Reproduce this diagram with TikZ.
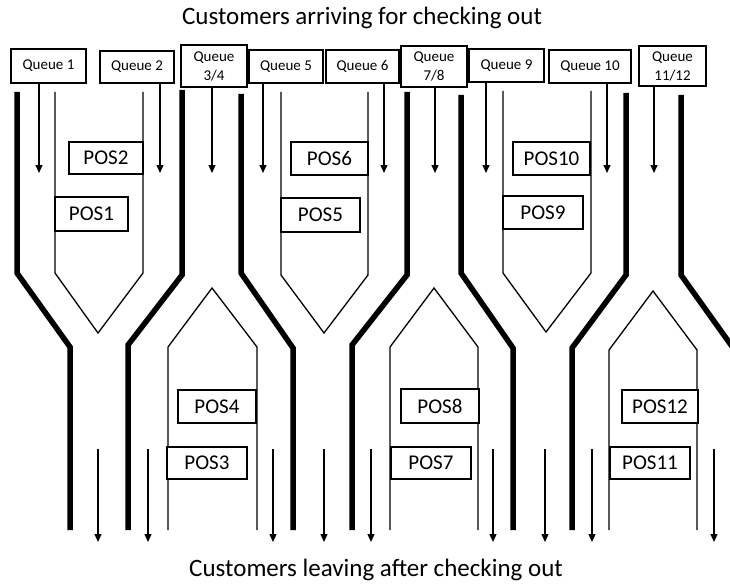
\documentclass[tikz,border=0pt]{standalone}
\usepackage{fontspec}
\setmainfont{Carlito}
\usetikzlibrary{arrows.meta}
\begin{document}
\begin{tikzpicture}[x=1pt,y=-1pt,
  wall/.style={line width=5.5pt, line join=miter},
  island/.style={line width=1.3pt, line join=miter},
  qbox/.style={draw, fill=white, line width=1.8pt, inner sep=0pt, font=\fontsize{15}{19}\selectfont, align=center},
  posbox/.style={draw, fill=white, line width=1.8pt, inner sep=0pt, font=\fontsize{21}{25}\selectfont},
  flow/.style={line width=1.2pt, -{Triangle[width=7pt,length=8pt]}},
  title/.style={font=\fontsize{25}{30}\selectfont, anchor=base, inner sep=0pt}]
\useasboundingbox (0,0) rectangle (730,583);

% lane walls
\draw[wall] (17,92) -- (17,273) -- (70,347) -- (70,530);
\draw[island] (55,92) -- (55,273) -- (98,333) -- (143,273) -- (143,92);
\draw[wall] (182,90) -- (182,275) -- (128,345) -- (128,530);
\draw[island] (168,530) -- (168,347) -- (212,288) -- (257,347) -- (257,530);
\draw[wall] (241,94) -- (241,273) -- (293,348) -- (293,530);
\draw[island] (281,92) -- (281,275) -- (324,333) -- (368,275) -- (368,92);
\draw[wall] (407,92) -- (407,275) -- (352,345) -- (352,530);
\draw[island] (390,530) -- (390,347) -- (434,288) -- (478,347) -- (478,530);
\draw[wall] (461,95) -- (461,273) -- (513,348) -- (513,530);
\draw[island] (503,91) -- (503,273) -- (546,332) -- (591,273) -- (591,91);
\draw[wall] (626,93) -- (626,275) -- (572,348) -- (572,530);
\draw[island] (609,530) -- (609,350) -- (653,291) -- (697,350) -- (697,530);
\draw[wall] (681,95) -- (681,275) -- (736,352);

% queue boxes
\node[qbox, minimum width=75pt, minimum height=34pt] (q1) at (48.5,66) {Queue 1};
\node[qbox, minimum width=74pt, minimum height=32pt] (q2) at (137,67) {Queue 2};
\node[qbox, minimum width=66pt, minimum height=42pt] (q34) at (214,66) {Queue\\3/4};
\node[qbox, minimum width=74pt, minimum height=33pt] (q5) at (286,66.5) {Queue 5};
\node[qbox, minimum width=73pt, minimum height=33pt] (q6) at (362.5,66.5) {Queue 6};
\node[qbox, minimum width=66pt, minimum height=41pt] (q78) at (434,66.5) {Queue\\7/8};
\node[qbox, minimum width=75pt, minimum height=33pt] (q9) at (506.5,65.5) {Queue 9};
\node[qbox, minimum width=82pt, minimum height=33pt] (q10) at (590,66.5) {Queue 10};
\node[qbox, minimum width=67pt, minimum height=40pt] (q1112) at (672.5,66) {Queue\\11/12};

% POS boxes
\node[posbox, minimum width=74pt, minimum height=32pt] (pos2) at (106,158) {POS2};
\node[posbox, minimum width=73pt, minimum height=34pt] (pos1) at (91.5,214) {POS1};
\node[posbox, minimum width=77pt, minimum height=33pt] (pos6) at (329.5,158.5) {POS6};
\node[posbox, minimum width=79pt, minimum height=34pt] (pos5) at (320.5,215) {POS5};
\node[posbox, minimum width=77pt, minimum height=33pt] (pos10) at (551.5,158.5) {POS10};
\node[posbox, minimum width=80pt, minimum height=33pt] (pos9) at (543,212.5) {POS9};
\node[posbox, minimum width=78pt, minimum height=33pt] (pos4) at (217,406.5) {POS4};
\node[posbox, minimum width=80pt, minimum height=32pt] (pos3) at (207,463) {POS3};
\node[posbox, minimum width=78pt, minimum height=34pt] (pos8) at (440,406) {POS8};
\node[posbox, minimum width=80pt, minimum height=32pt] (pos7) at (431,463) {POS7};
\node[posbox, minimum width=76pt, minimum height=33pt] (pos12) at (660,406.5) {POS12};
\node[posbox, minimum width=80pt, minimum height=32pt] (pos11) at (650,463) {POS11};

% arrival arrows
\coordinate (t1) at (39,173);
\coordinate (t2) at (160,173);
\coordinate (t34) at (212,173);
\coordinate (t5) at (263,173);
\coordinate (t6) at (384,173);
\coordinate (t78) at (435,173);
\coordinate (t9) at (486,173);
\coordinate (t10) at (607,173);
\coordinate (t1112) at (654,173);
\draw[flow] (q1.south -| t1) -- (t1);
\draw[flow] (q2.south -| t2) -- (t2);
\draw[flow] (q34.south -| t34) -- (t34);
\draw[flow] (q5.south -| t5) -- (t5);
\draw[flow] (q6.south -| t6) -- (t6);
\draw[flow] (q78.south -| t78) -- (t78);
\draw[flow] (q9.south -| t9) -- (t9);
\draw[flow] (q10.south -| t10) -- (t10);
\draw[flow] (q1112.south -| t1112) -- (t1112);

% leaving arrows
\foreach \n/\x in {1/98,2/148,3/273,4/324,5/371,6/493,7/545,8/592,9/714}{
  \coordinate (bs\n) at (\x,449);
  \coordinate (be\n) at (\x,542);
  \draw[flow] (bs\n) -- (be\n);
}

% titles
\node[title] (arrive) at (362,25) {Customers arriving for checking out};
\node[title] (leave) at (376,576) {Customers leaving after checking out};
\end{tikzpicture}
\end{document}
